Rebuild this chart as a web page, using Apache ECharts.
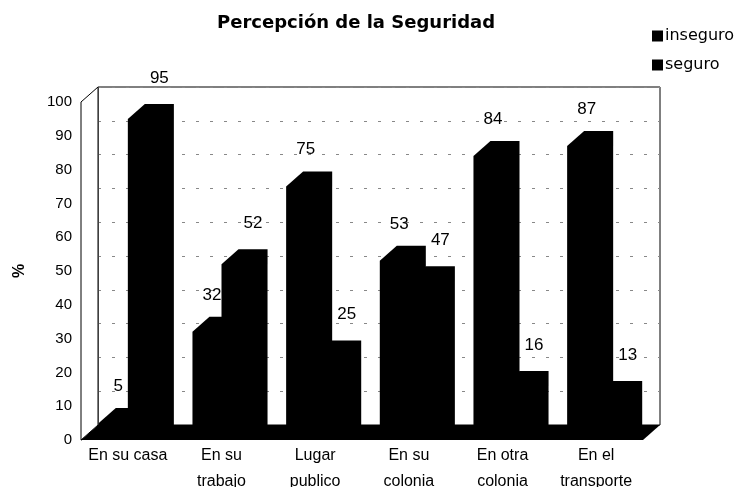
<!DOCTYPE html>
<html>
<head>
<meta charset="utf-8">
<script src="https://cdn.jsdelivr.net/npm/echarts@6/dist/echarts.min.js"></script>
<style>
html, body { margin: 0; padding: 0; background: #fff; }
#chart { width: 738px; height: 487px; }
</style>
</head>
<body>
<div id="chart"></div>
<script>
// datos
var categorias = ['En su casa', 'En su\ntrabajo', 'Lugar\npublico', 'En su\ncolonia', 'En otra\ncolonia', 'En el\ntransporte'];
var inseguro = [5, 32, 75, 53, 84, 87];
var seguro = [95, 52, 25, 47, 16, 13];

var FUENTE = '"Liberation Sans", Arial, sans-serif';
var FUENTE_ANCHA = '"DejaVu Sans", sans-serif';
var DX = 17, DY = 15; // profundidad del efecto 3D

function dibujarParedes(params, api) {
  var band = api.size([1, 0])[0];
  var p0 = api.coord([0, 0]);
  var pTop = api.coord([0, 100]);
  var x0 = p0[0] - band / 2;
  var x1 = x0 + band * categorias.length;
  var y0 = p0[1];
  return {
    type: 'group',
    children: [
      { type: 'polygon', shape: { points: [[x0, y0], [x1, y0], [x1 + DX, y0 - DY], [x0 + DX, y0 - DY]] },
        style: { fill: '#000' } },
      { type: 'polygon', shape: { points: [[x0, y0], [x0, pTop[1]], [x0 + DX, pTop[1] - DY], [x0 + DX, y0 - DY]] },
        style: { fill: '#fff', stroke: '#000', lineWidth: 1 } }
    ]
  };
}

// desplaza: -1 barra izquierda, 0 barra derecha; etqX / etqY: ajuste de la etiqueta
function barra(desplaza, etqX, etqY) {
  return function (params, api) {
    var i = api.value(0), v = api.value(1);
    var band = api.size([1, 0])[0];
    var w = band * 0.31;
    var top = api.coord([i, v]);
    var base = api.coord([i, 0]);
    var x0 = top[0] + desplaza * w;
    var pts = [
      [x0, base[1]], [x0, top[1]], [x0 + DX, top[1] - DY],
      [x0 + w + DX, top[1] - DY], [x0 + w + DX, base[1] - DY], [x0 + w, base[1]]
    ];
    return {
      type: 'group',
      children: [
        { type: 'polygon', shape: { points: pts }, style: { fill: '#000' } },
        { type: 'text', z2: 20, style: { text: String(v), x: x0 + w / 2 + DX + etqX, y: top[1] - DY - etqY,
          align: 'center', verticalAlign: 'middle', font: '17px ' + FUENTE, fill: '#000' } }
      ]
    };
  };
}

var myChart = echarts.init(document.getElementById('chart'));

var option = {
  animation: false,
  backgroundColor: '#fff',
  title: {
    text: 'Percepción de la Seguridad',
    left: 212,
    top: 9,
    textStyle: { fontFamily: FUENTE_ANCHA, fontSize: 18, fontWeight: 'bold', color: '#000' }
  },
  legend: {
    orient: 'vertical',
    left: 647,
    top: 23,
    itemWidth: 11,
    itemHeight: 11,
    itemGap: 13,
    textStyle: { fontFamily: FUENTE_ANCHA, fontSize: 16, color: '#000', padding: [0, 0, 0, -3] },
    data: [{ name: 'inseguro', icon: 'rect' }, { name: 'seguro', icon: 'rect' }]
  },
  grid: [
    { left: 81, top: 102, width: 562, height: 338, outerBoundsMode: 'none' },
    { left: 98, top: 87, width: 562, height: 338, outerBoundsMode: 'none',
      show: true, borderColor: '#000', borderWidth: 1 }
  ],
  xAxis: [
    {
      type: 'category', gridIndex: 0, data: categorias,
      axisLine: { show: false }, axisTick: { show: false },
      axisLabel: { interval: 0, margin: 3, fontFamily: FUENTE, fontSize: 16, lineHeight: 26, color: '#000' }
    },
    { type: 'category', gridIndex: 1, data: categorias, show: false }
  ],
  yAxis: [
    {
      type: 'value', gridIndex: 0, min: 0, max: 100, interval: 10,
      name: '%', nameLocation: 'middle', nameGap: 53, nameRotate: 90,
      nameTextStyle: { fontFamily: FUENTE, fontSize: 16, fontWeight: 'bold', color: '#000' },
      axisLine: { show: true, lineStyle: { color: '#000', width: 1 } },
      axisTick: { show: false },
      splitLine: { show: false },
      axisLabel: { margin: 9, fontFamily: FUENTE, fontSize: 15, color: '#000' }
    },
    {
      type: 'value', gridIndex: 1, min: 0, max: 100, interval: 10,
      axisLine: { show: false }, axisTick: { show: false }, axisLabel: { show: false },
      splitLine: { show: true, lineStyle: { color: '#888', width: 1, type: [3, 11] } }
    }
  ],
  series: [
    {
      name: 'paredes', type: 'custom', xAxisIndex: 0, yAxisIndex: 0, z: 1, silent: true,
      renderItem: dibujarParedes, data: [[0, 0]]
    },
    {
      name: 'inseguro', type: 'custom', xAxisIndex: 0, yAxisIndex: 0, z: 2,
      itemStyle: { color: '#000' },
      renderItem: barra(-1, -12, 22),
      data: inseguro.map(function (v, i) { return [i, v]; })
    },
    {
      name: 'seguro', type: 'custom', xAxisIndex: 0, yAxisIndex: 0, z: 2,
      itemStyle: { color: '#000' },
      renderItem: barra(0, 0, 26),
      data: seguro.map(function (v, i) { return [i, v]; })
    }
  ]
};

myChart.setOption(option);
</script>
</body>
</html>
